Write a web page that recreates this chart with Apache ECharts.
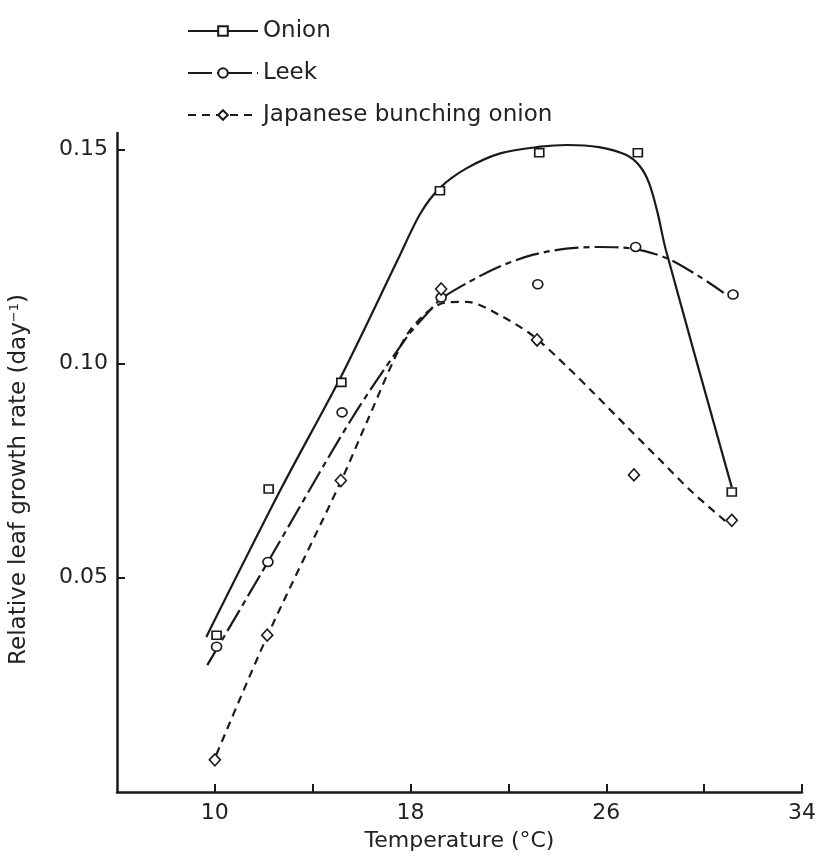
<!DOCTYPE html>
<html>
<head>
<meta charset="utf-8">
<script src="https://cdn.jsdelivr.net/npm/echarts@6/dist/echarts.min.js"></script>
<style>
html,body{margin:0;padding:0;background:#fff;}
#chart{width:819px;height:857px;}
</style>
</head>
<body>
<div id="chart"></div>
<script>
// Tick values / labels
const xTickValues = [10, 14, 18, 22, 26, 30, 34];
const xLabelValues = [10, 18, 26, 34];
const yTickValues = [0.05, 0.10, 0.15];

// Observed points [temperature, rate]
const onionPoints = [[10.07,0.0366],[12.2,0.0707],[15.17,0.0956],[19.2,0.1403],[23.26,0.1492],[27.29,0.1492],[31.13,0.0700]];
const leekPoints = [[10.07,0.0339],[12.17,0.0537],[15.2,0.0886],[19.25,0.1154],[23.2,0.1185],[27.2,0.1272],[31.18,0.1161]];
const jboPoints = [[10.0,0.0075],[12.14,0.0366],[15.15,0.0727],[19.25,0.1174],[23.17,0.1055],[27.13,0.0740],[31.13,0.0634]];

// Fitted curves
const onionCurve = [[9.65,0.0362],[12.7,0.0707],[15.17,0.0971],[17.5,0.1245],[18.4,0.1350],[19.2,0.1410],[20.3,0.1456],[21.7,0.1491],[23.3,0.1506],[24.4,0.1510],[25.7,0.1505],[26.8,0.1487],[27.35,0.1462],[27.75,0.1421],[28.1,0.1351],[28.43,0.1266],[31.13,0.0711]];
const leekCurve = [[9.69,0.0296],[12.17,0.0537],[15.58,0.0870],[17.88,0.1064],[18.6,0.1112],[19.23,0.1150],[20.31,0.1188],[21.67,0.1227],[23.02,0.1254],[24.37,0.1268],[25.72,0.1272],[27.08,0.1268],[28.43,0.1247],[29.78,0.1204],[30.8,0.1165]];
const jboCurve = [[10.06,0.0087],[12.16,0.0366],[15.17,0.0727],[16.26,0.0870],[17.74,0.1057],[18.6,0.1116],[19.4,0.1142],[20.3,0.1144],[21.67,0.1112],[23.02,0.1064],[24.37,0.0994],[25.45,0.0933],[26.8,0.0855],[28.16,0.0777],[29.51,0.0700],[31.0,0.0626]];

const names = ['Onion', 'Leek', 'Japanese bunching onion'];
const ink = '#1a1a1a';
const font = 'DejaVu Sans';

const chart = echarts.init(document.getElementById('chart'), null, {renderer: 'canvas'});

function curveSeries(name, data, dash, symbol, size) {
  return {
    name: name, type: 'line', data: data, smooth: 0.3, smoothMonotone: 'none',
    showSymbol: false, symbol: symbol, symbolSize: size,
    lineStyle: {color: ink, width: 2.2, type: dash},
    itemStyle: {color: '#fff', borderColor: ink, borderWidth: 1.6},
    silent: true, z: 2
  };
}
function pointSeries(name, data, symbol, size) {
  return {
    name: name, type: 'scatter', data: data, symbol: symbol, symbolSize: size,
    itemStyle: {color: '#fff', borderColor: ink, borderWidth: 1.6, opacity: 1},
    silent: true, z: 3
  };
}

chart.setOption({
  animation: false,
  backgroundColor: '#fff',
  grid: {left: 116, right: 15, top: 133, bottom: 63, containLabel: false},
  legend: {
    data: names,
    orient: 'vertical', left: 182, top: 14,
    itemWidth: 70, itemHeight: 12, itemGap: 18,
    textStyle: {fontFamily: font, fontSize: 23, color: '#222', lineHeight: 24},
    selectedMode: false
  },
  xAxis: {
    type: 'value', min: 6, max: 34,
    name: 'Temperature (\u00B0C)', nameLocation: 'middle', nameGap: 38,
    nameTextStyle: {fontFamily: font, fontSize: 22, color: '#222'},
    axisLine: {show: true, onZero: false, lineStyle: {color: ink, width: 2.5}},
    axisTick: {show: true, inside: true, length: 8, customValues: xTickValues, lineStyle: {color: ink, width: 2}},
    axisLabel: {fontFamily: font, fontSize: 22, color: '#222', margin: 10, customValues: xLabelValues},
    splitLine: {show: false}
  },
  yAxis: {
    type: 'value', min: 0, max: 0.1538,
    name: 'Relative leaf growth rate (day{sup|\u22121})', nameLocation: 'middle', nameGap: 86, nameRotate: 90,
    nameTextStyle: {fontFamily: font, fontSize: 23, color: '#222', padding: [0, 34, 0, 0],
      rich: {sup: {fontFamily: font, fontSize: 13, color: '#222', verticalAlign: 'top', padding: [0, 0, 10, 0]}}},
    axisLine: {show: true, onZero: false, lineStyle: {color: ink, width: 2.5}},
    axisTick: {show: true, inside: true, length: 8, customValues: yTickValues, lineStyle: {color: ink, width: 2}},
    axisLabel: {fontFamily: font, fontSize: 22, color: '#222', margin: 9, customValues: yTickValues,
      formatter: function (v) { return v.toFixed(2); }},
    splitLine: {show: false}
  },
  series: [
    curveSeries(names[0], onionCurve, 'solid', 'rect', [9, 8]),
    curveSeries(names[1], leekCurve, [24, 5, 6, 5], 'circle', [10, 9]),
    curveSeries(names[2], jboCurve, [8, 6], 'diamond', [11, 12]),
    pointSeries(names[0], onionPoints, 'rect', [9, 8]),
    pointSeries(names[1], leekPoints, 'circle', [10, 9]),
    pointSeries(names[2], jboPoints, 'diamond', [11, 12])
  ]
});
</script>
</body>
</html>
